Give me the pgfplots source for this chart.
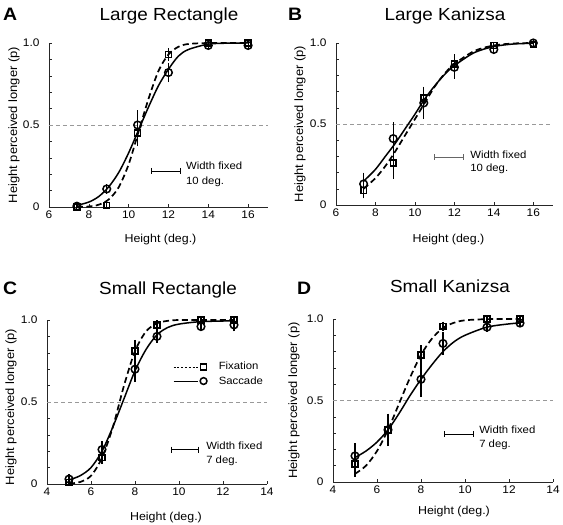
\documentclass[border=0pt]{standalone}
\usepackage{pgfplots}
\pgfplotsset{compat=1.18}
\usepackage{fontspec}
\setmainfont{Liberation Sans}[FakeStretch=1.08]
\setsansfont{Liberation Sans}[FakeStretch=1.08]

\tikzset{ann/.style={font=\fontsize{10.5}{12}\selectfont, anchor=base west, inner sep=0pt}}
\pgfplotsset{
  panel/.style={
    scale only axis, anchor=south west, clip=false,
    axis lines=left, axis line style={-, line width=0.6pt, black!85},
    tick align=inside, major tick length=3pt, minor tick length=3pt,
    tick style={line width=0.5pt, black!85},
    ymin=0, ymax=1,
    ytick={0,0.5,1}, yticklabels={{0\hspace{-5pt}},0.5,1.0},
    minor ytick={0.1,0.2,0.3,0.4,0.6,0.7,0.8,0.9},
    /pgf/number format/assume math mode=true,
    ticklabel style={font=\fontsize{11}{13}\selectfont},
    yticklabel style={xshift=-6pt},
    xlabel style={font=\fontsize{11.5}{13}\selectfont},
    ylabel style={font=\fontsize{12}{14}\selectfont},
    xlabel={Height (deg.)},
    ylabel={Height perceived longer (p)},
  },
  fitfix/.style={black, line width=1.7pt, smooth, dash pattern=on 6pt off 3.5pt},
  fitsac/.style={black, line width=1.5pt, smooth},
  ptfix/.style={black, only marks, mark=square, mark size=2.9pt,
    mark options={solid, line width=1.6pt},
    error bars/.cd, y dir=both, y explicit,
    error bar style={line width=1.1pt}, error mark options={line width=1.1pt, mark size=1.5pt}},
  ptsac/.style={black, only marks, mark=o, mark size=3.8pt,
    mark options={solid, line width=1.5pt},
    error bars/.cd, y dir=both, y explicit,
    error bar style={line width=1.1pt}, error mark options={line width=1.1pt, mark size=1.5pt}},
  half/.style={gray!80, line width=0.6pt, dash pattern=on 4pt off 3pt},
}
\newcommand{\ttl}{\fontsize{17.5}{20}\selectfont}
\newcommand{\lett}{\bfseries\fontsize{18}{20}\selectfont}

\begin{document}
\begin{tikzpicture}
\useasboundingbox (0,0) rectangle (563pt,525pt);

% ---------------- Panel A ----------------
\node[anchor=base west, inner sep=0pt, font=\lett] at (3pt,504pt) {A};
\node[anchor=base, inner sep=0pt, font=\ttl] at (169pt,504pt) {Large Rectangle};
\begin{axis}[panel, at={(49pt,318pt)}, width=219pt, height=164pt,
  xmin=6, xmax=17, xtick={6,8,10,12,14,16},
  xlabel style={at={(axis description cs:0.5,0)}, anchor=base, yshift=-36pt, xshift=2pt},
  ylabel style={at={(axis description cs:0,0.5)}, anchor=center, yshift=35pt}]
\addplot[half] coordinates {(6,0.5) (17,0.5)};
\addplot[fitfix] coordinates {(7.4,0.0004)(8,0.003)(8.5,0.014)(9,0.046)(9.5,0.12)(10,0.26)(10.5,0.46)(11,0.66)(11.5,0.83)(12,0.93)(12.5,0.977)(13,0.994)(14,1.0)(15,1.0)(16,1.0)};
\addplot[fitsac] coordinates {(7.4,0.01)(8,0.03)(8.5,0.064)(9,0.123)(9.5,0.21)(10,0.33)(10.5,0.47)(11,0.61)(11.5,0.74)(12,0.84)(12.5,0.92)(13,0.96)(14,0.993)(15,0.999)(16,1.0)};
\addplot[ptfix] coordinates {(7.4,0.0)+-(0,0.005) (8.9,0.01)+-(0,0.01) (10.45,0.45)+-(0,0.07) (12,0.93)+-(0,0.03) (14,1.0)+-(0,0.01) (16,1.0)+-(0,0.005)};
\addplot[ptsac] coordinates {(7.4,0.005)+-(0,0.01) (8.9,0.11)+-(0,0.02) (10.45,0.50)+-(0,0.08) (12,0.82)+-(0,0.05) (14,0.985)+-(0,0.01) (16,0.985)+-(0,0.01)};
\addplot[black, line width=0.8pt, mark=|, mark size=3pt, mark options={solid, line width=0.8pt}] coordinates {(11.13,0.22) (12.58,0.22)};
\node[ann] at (axis cs:12.88,0.226) {Width fixed};
\node[ann] at (axis cs:12.88,0.14) {10 deg.};
\end{axis}

% ---------------- Panel B ----------------
\node[anchor=base west, inner sep=0pt, font=\lett] at (288pt,504pt) {B};
\node[anchor=base, inner sep=0pt, font=\ttl] at (445pt,504pt) {Large Kanizsa};
\begin{axis}[panel, at={(336pt,320pt)}, width=217pt, height=162pt,
  xmin=6, xmax=17, xtick={6,8,10,12,14,16},
  xlabel style={at={(axis description cs:0.5,0)}, anchor=base, yshift=-38pt, xshift=4pt},
  ylabel style={at={(axis description cs:0,0.5)}, anchor=center, yshift=36pt}]
\addplot[half] coordinates {(6,0.5) (17,0.5)};
\addplot[fitfix] coordinates {(7.4,0.10)(8,0.166)(8.5,0.24)(9,0.33)(9.5,0.43)(10,0.53)(10.5,0.63)(11,0.73)(11.5,0.81)(12,0.87)(13,0.95)(14,0.985)(15,0.997)(16,1.0)};
\addplot[fitsac] coordinates {(7.4,0.147)(8,0.22)(8.5,0.30)(9,0.38)(9.5,0.47)(10,0.56)(10.5,0.655)(11,0.735)(11.5,0.805)(12,0.86)(13,0.94)(14,0.978)(15,0.994)(16,0.998)};
\addplot[ptfix] coordinates {(7.4,0.09)+-(0,0.04) (8.9,0.26)+-(0,0.09) (10.45,0.66)+-(0,0.06) (12,0.87)+-(0,0.05) (14,0.985)+-(0,0.01) (16,0.99)+-(0,0.01)};
\addplot[ptsac] coordinates {(7.4,0.13)+-(0,0.06) (8.9,0.41)+-(0,0.09) (10.45,0.63)+-(0,0.09) (12,0.85)+-(0,0.06) (14,0.96)+-(0,0.02) (16,1.0)+-(0,0.01)};
\addplot[black!60, line width=0.9pt, mark=|, mark size=3pt, mark options={solid, line width=0.9pt}] coordinates {(11.0,0.296) (12.45,0.296)};
\node[ann] at (axis cs:12.8,0.29) {Width fixed};
\node[ann] at (axis cs:12.8,0.204) {10 deg.};
\end{axis}

% ---------------- Panel C ----------------
\node[anchor=base west, inner sep=0pt, font=\lett] at (3pt,230pt) {C};
\node[anchor=base, inner sep=0pt, font=\ttl] at (168pt,230pt) {Small Rectangle};
\begin{axis}[panel, at={(47pt,41pt)}, width=220pt, height=164pt,
  xmin=4, xmax=14, xtick={4,6,8,10,12,14},
  xlabel style={at={(axis description cs:0.5,0)}, anchor=base, yshift=-37pt, xshift=9pt},
  ylabel style={at={(axis description cs:0,0.5)}, anchor=center, yshift=36pt, xshift=-5pt},
  legend style={draw=none, fill=none, at={(axis description cs:0.573,0.755)}, anchor=north west,
    font=\fontsize{10.5}{12}\selectfont, inner sep=0pt, row sep=1pt, legend cell align=left}]
\addlegendimage{legend image code/.code={\draw[black, line width=0.6pt, dash pattern=on 2pt off 1.8pt] (0pt,0pt)--(24pt,0pt); \draw[black, line width=1.5pt] (27pt,-3pt) rectangle (33pt,3pt); \path (43pt,0pt);}}
\addlegendentry{Fixation}
\addlegendimage{legend image code/.code={\draw[black, line width=0.6pt] (0pt,0pt)--(24pt,0pt); \draw[black, line width=1.5pt] (30pt,0pt) circle (3.4pt); \path (43pt,0pt);}}
\addlegendentry{Saccade}
\addplot[forget plot, half] coordinates {(4,0.5) (14,0.5)};
\addplot[forget plot, fitfix] coordinates {(5,0.002)(5.5,0.012)(6,0.05)(6.5,0.16)(7,0.35)(7.5,0.6)(8,0.81)(8.5,0.93)(9,0.98)(9.5,0.995)(10,1)(11,1)(12.5,1)};
\addplot[forget plot, fitsac] coordinates {(5,0.025)(5.5,0.05)(6,0.10)(6.5,0.20)(7,0.35)(7.5,0.52)(8,0.69)(8.5,0.82)(9,0.91)(9.5,0.955)(10,0.975)(11,0.99)(12.5,0.995)};
\addplot[forget plot, ptfix] coordinates {(5,0.01)+-(0,0.01) (6.5,0.16)+-(0,0.03) (8,0.81)+-(0,0.06) (9,0.97)+-(0,0.02) (11,1.0)+-(0,0.005) (12.5,1.0)+-(0,0.005)};
\addplot[forget plot, ptsac] coordinates {(5,0.03)+-(0,0.02) (6.5,0.21)+-(0,0.04) (8,0.70)+-(0,0.07) (9,0.90)+-(0,0.03) (11,0.96)+-(0,0.02) (12.5,0.97)+-(0,0.03)};
\addplot[forget plot, black, line width=0.8pt, mark=|, mark size=3pt, mark options={solid, line width=0.8pt}] coordinates {(9.64,0.21) (10.9,0.21)};
\node[ann] at (axis cs:11.23,0.21) {Width fixed};
\node[ann] at (axis cs:11.23,0.128) {7 deg.};
\end{axis}

% ---------------- Panel D ----------------
\node[anchor=base west, inner sep=0pt, font=\lett] at (297pt,230pt) {D};
\node[anchor=base, inner sep=0pt, font=\ttl] at (450pt,232pt) {Small Kanizsa};
\begin{axis}[panel, at={(333pt,43pt)}, width=220pt, height=163pt,
  xmin=4, xmax=14, xtick={4,6,8,10,12,14},
  xlabel style={at={(axis description cs:0.5,0)}, anchor=base, yshift=-33pt, xshift=11pt},
  ylabel style={at={(axis description cs:0,0.5)}, anchor=center, yshift=39pt}]
\addplot[half] coordinates {(4,0.5) (14,0.5)};
\addplot[fitfix] coordinates {(5,0.05)(5.5,0.10)(6,0.19)(6.5,0.32)(7,0.48)(7.5,0.64)(8,0.78)(8.5,0.88)(9,0.945)(9.5,0.977)(10,0.992)(11,0.999)(12.5,1)};
\addplot[fitsac] coordinates {(5,0.15)(5.5,0.19)(6,0.245)(6.5,0.32)(7,0.42)(7.5,0.53)(8,0.63)(8.5,0.72)(9,0.80)(9.5,0.86)(10,0.90)(11,0.95)(12,0.97)(12.5,0.975)};
\addplot[ptfix] coordinates {(5,0.11)+-(0,0.07) (6.5,0.32)+-(0,0.07) (8,0.78)+-(0,0.05) (9,0.955)+-(0,0.02) (11,1.0)+-(0,0.005) (12.5,1.0)+-(0,0.005)};
\addplot[ptsac] coordinates {(5,0.16)+-(0,0.07) (6.5,0.32)+-(0,0.09) (8,0.63)+-(0,0.10) (9,0.85)+-(0,0.06) (11,0.95)+-(0,0.02) (12.5,0.975)+-(0,0.015)};
\addplot[black, line width=0.8pt, mark=|, mark size=3pt, mark options={solid, line width=0.8pt}] coordinates {(9.05,0.294) (10.36,0.294)};
\node[ann] at (axis cs:10.64,0.296) {Width fixed};
\node[ann] at (axis cs:10.64,0.209) {7 deg.};
\end{axis}
\end{tikzpicture}
\end{document}
